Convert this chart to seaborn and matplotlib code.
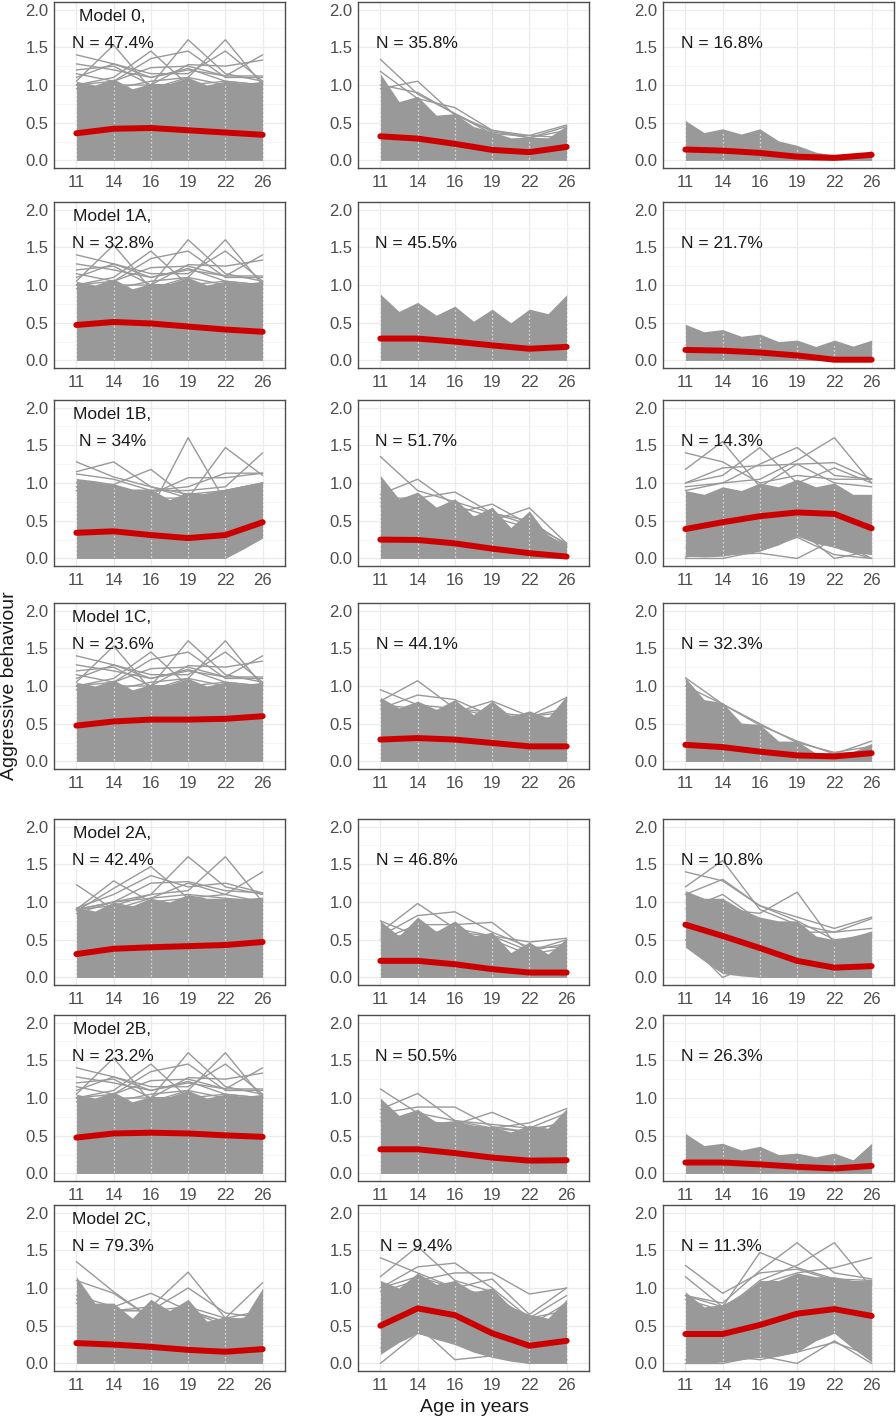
import numpy as np
import pandas as pd
import matplotlib
matplotlib.use("Agg")
import matplotlib.pyplot as plt
import seaborn as sns

# ---------------- data ----------------
ages = ["11", "14", "16", "19", "22", "26"]
model_names = ["Model 0,", "Model 1A,", "Model 1B,", "Model 1C,", "Model 2A,", "Model 2B,", "Model 2C,"]
class_pct = [
    ["47.4%", "35.8%", "16.8%"],
    ["32.8%", "45.5%", "21.7%"],
    ["34%", "51.7%", "14.3%"],
    ["23.6%", "44.1%", "32.3%"],
    ["42.4%", "46.8%", "10.8%"],
    ["23.2%", "50.5%", "26.3%"],
    ["79.3%", "9.4%", "11.3%"],
]

# class mean trajectories (red lines)
m0_mean = [[0.36, 0.42, 0.43, 0.40, 0.37, 0.34], [0.32, 0.29, 0.22, 0.14, 0.11, 0.18], [0.145, 0.13, 0.10, 0.05, 0.035, 0.075]]
m1a_mean = [[0.47, 0.51, 0.49, 0.45, 0.41, 0.38], [0.29, 0.29, 0.25, 0.20, 0.155, 0.18], [0.14, 0.13, 0.105, 0.066, 0.01, 0.01]]
m1b_mean = [[0.34, 0.36, 0.31, 0.27, 0.31, 0.48], [0.25, 0.245, 0.20, 0.13, 0.07, 0.025], [0.39, 0.48, 0.56, 0.61, 0.59, 0.40]]
m1c_mean = [[0.475, 0.53, 0.555, 0.555, 0.565, 0.60], [0.29, 0.31, 0.29, 0.245, 0.20, 0.20], [0.22, 0.19, 0.13, 0.08, 0.067, 0.11]]
m2a_mean = [[0.31, 0.38, 0.40, 0.415, 0.43, 0.47], [0.22, 0.22, 0.175, 0.11, 0.065, 0.065], [0.70, 0.55, 0.39, 0.22, 0.13, 0.15]]
m2b_mean = [[0.475, 0.53, 0.54, 0.53, 0.505, 0.485], [0.32, 0.32, 0.27, 0.21, 0.17, 0.175], [0.145, 0.145, 0.12, 0.088, 0.066, 0.10]]
m2c_mean = [[0.27, 0.25, 0.22, 0.18, 0.155, 0.19], [0.50, 0.73, 0.64, 0.40, 0.235, 0.30], [0.39, 0.39, 0.51, 0.66, 0.72, 0.63]]

# envelopes of the dense grey mass of individual trajectories:
# values alternate: at age 11, between 11-14, at 14, ..., at 26 (11 values)
zero_edge = [0, 0, 0, 0, 0, 0, 0, 0, 0, 0, 0]
full_top = [1.05, 1.00, 1.08, 0.95, 1.02, 1.02, 1.10, 1.00, 1.05, 1.02, 1.05]
full_lines = [
    [1.40, 1.28, 1.10, 1.22, 1.05, 1.00],
    [1.05, 1.53, 0.95, 1.10, 1.00, 0.95],
    [1.00, 1.10, 1.45, 1.00, 1.05, 1.00],
    [0.95, 1.00, 1.00, 1.60, 1.15, 1.05],
    [1.00, 0.95, 1.05, 1.10, 1.60, 1.00],
    [1.00, 1.05, 1.23, 1.25, 1.12, 1.40],
    [1.28, 1.20, 1.10, 1.20, 1.12, 1.12],
    [1.20, 1.25, 1.00, 1.27, 1.25, 1.33],
    [1.15, 1.05, 1.35, 1.45, 1.10, 1.10],
    [1.10, 1.28, 1.15, 1.15, 1.45, 1.05],
]

m0_top = [full_top,
          [1.15, 0.78, 0.85, 0.60, 0.62, 0.45, 0.38, 0.30, 0.31, 0.30, 0.46],
          [0.53, 0.37, 0.42, 0.35, 0.42, 0.26, 0.20, 0.11, 0.07, 0.05, 0.13]]
m0_bottom = [zero_edge, zero_edge, zero_edge]
m0_lines = [full_lines,
            [[1.34, 0.88, 0.62, 0.38, 0.30, 0.40], [0.95, 1.05, 0.60, 0.40, 0.30, 0.45],
             [1.18, 0.82, 0.70, 0.40, 0.33, 0.47], [1.00, 0.90, 0.62, 0.35, 0.33, 0.30]],
            []]

m1a_top = [full_top,
           [0.88, 0.65, 0.77, 0.60, 0.72, 0.52, 0.68, 0.50, 0.68, 0.62, 0.87],
           [0.48, 0.38, 0.41, 0.32, 0.35, 0.25, 0.27, 0.185, 0.27, 0.19, 0.27]]
m1a_bottom = [zero_edge, zero_edge, zero_edge]
m1a_lines = [full_lines, [], []]

m1b_top = [[1.06, 1.03, 0.99, 0.92, 0.92, 0.78, 0.88, 0.85, 0.92, 0.95, 1.00],
           [1.10, 0.79, 0.88, 0.68, 0.79, 0.56, 0.68, 0.41, 0.63, 0.30, 0.19],
           [0.90, 0.85, 0.95, 0.90, 1.00, 0.95, 1.05, 0.95, 1.00, 0.85, 0.85]]
m1b_bottom = [[0, 0, 0, 0, 0, 0, 0, 0, 0, 0.13, 0.27],
              zero_edge,
              [0.03, 0.02, 0.03, 0.07, 0.10, 0.18, 0.30, 0.20, 0.15, 0.08, 0.05]]
m1b_lines = [
    [[1.28, 1.08, 0.95, 0.85, 0.90, 1.00], [1.15, 1.28, 0.95, 0.80, 0.90, 1.00],
     [1.00, 0.98, 1.18, 0.80, 0.90, 1.00], [0.90, 0.90, 0.65, 1.60, 0.75, 1.00],
     [0.95, 0.90, 0.85, 1.07, 1.07, 1.13], [0.90, 0.85, 0.80, 0.80, 1.47, 1.10],
     [0.95, 0.90, 0.90, 0.90, 0.95, 1.40], [1.12, 1.05, 0.90, 0.95, 1.13, 1.13]],
    [[1.35, 0.90, 0.75, 0.60, 0.45, 0.15], [0.85, 1.05, 0.70, 0.55, 0.40, 0.15],
     [0.80, 0.80, 0.88, 0.60, 0.50, 0.18], [0.75, 0.70, 0.60, 0.72, 0.45, 0.20],
     [0.70, 0.65, 0.60, 0.50, 0.67, 0.20]],
    [[1.40, 1.28, 1.00, 1.10, 1.05, 1.05], [1.18, 1.55, 0.95, 1.25, 1.00, 0.95],
     [1.00, 1.10, 1.47, 1.00, 1.20, 1.00], [0.95, 1.00, 1.25, 1.47, 1.10, 1.05],
     [0.90, 1.00, 1.05, 1.30, 1.60, 1.00], [1.00, 1.20, 1.23, 1.25, 1.27, 1.05],
     [0.00, 0.00, 0.10, 0.28, 0.05, 0.00], [0.05, 0.05, 0.07, 0.00, 0.25, 0.00],
     [0.15, 0.10, 0.30, 0.40, 0.00, 0.10], [0.02, 0.10, 0.20, 0.30, 0.15, 0.00]],
]

m1c_top = [full_top,
           [0.85, 0.71, 0.80, 0.69, 0.82, 0.62, 0.80, 0.60, 0.67, 0.58, 0.87],
           [1.11, 0.82, 0.78, 0.51, 0.49, 0.27, 0.27, 0.11, 0.12, 0.13, 0.24]]
m1c_bottom = [zero_edge, zero_edge, zero_edge]
m1c_lines = [full_lines,
             [[0.95, 0.75, 0.70, 0.60, 0.55, 0.60], [0.80, 1.07, 0.70, 0.65, 0.60, 0.70],
              [0.70, 0.88, 0.82, 0.60, 0.60, 0.65], [0.75, 0.70, 0.65, 0.80, 0.60, 0.85]],
             [[1.11, 0.76, 0.50, 0.25, 0.12, 0.20], [1.00, 0.76, 0.48, 0.27, 0.10, 0.27]]]

m2a_top = [[0.93, 0.88, 1.00, 0.95, 1.05, 1.00, 1.10, 1.05, 1.05, 1.05, 1.05],
           [0.75, 0.55, 0.80, 0.61, 0.75, 0.55, 0.60, 0.33, 0.47, 0.31, 0.52],
           [1.15, 1.05, 1.05, 0.90, 0.80, 0.75, 0.75, 0.55, 0.50, 0.55, 0.60]]
m2a_bottom = [zero_edge,
              zero_edge,
              [0.40, 0.22, 0.05, 0.02, 0, 0, 0, 0, 0, 0, 0]]
m2a_lines = [
    [[1.23, 0.90, 1.05, 1.10, 1.05, 1.00], [0.90, 1.28, 1.00, 1.05, 1.00, 1.05],
     [0.88, 1.18, 1.47, 1.05, 1.10, 1.00], [0.90, 1.00, 1.25, 1.27, 1.15, 1.12],
     [0.85, 1.00, 1.10, 1.60, 1.20, 1.10], [0.90, 0.95, 1.10, 1.15, 1.60, 1.00],
     [0.90, 1.00, 1.05, 1.25, 1.10, 1.40], [0.92, 1.10, 1.35, 1.20, 1.25, 1.12]],
    [[0.75, 0.55, 0.60, 0.50, 0.30, 0.40], [0.60, 0.98, 0.65, 0.55, 0.35, 0.45],
     [0.55, 0.82, 0.87, 0.60, 0.40, 0.40], [0.50, 0.70, 0.70, 0.73, 0.35, 0.50],
     [0.50, 0.60, 0.60, 0.55, 0.47, 0.52]],
    [[1.40, 1.28, 0.95, 0.75, 0.50, 0.55], [1.20, 1.55, 0.90, 0.70, 0.60, 0.65],
     [1.10, 1.30, 0.95, 0.80, 0.65, 0.80], [1.00, 0.90, 0.85, 1.13, 0.45, 0.60],
     [0.90, 1.10, 0.75, 0.60, 0.60, 0.78], [0.50, 0.00, 0.20, 0.10, 0.05, 0.10]],
]

m2b_top = [full_top,
           [1.00, 0.77, 0.85, 0.68, 0.70, 0.64, 0.62, 0.55, 0.64, 0.60, 0.86],
           [0.53, 0.37, 0.40, 0.31, 0.36, 0.25, 0.27, 0.22, 0.27, 0.18, 0.40]]
m2b_bottom = [zero_edge, zero_edge, zero_edge]
m2b_lines = [full_lines,
             [[1.12, 0.80, 0.70, 0.60, 0.55, 0.60], [0.85, 1.06, 0.70, 0.65, 0.60, 0.65],
              [0.80, 0.88, 0.88, 0.62, 0.55, 0.70], [0.75, 0.70, 0.65, 0.81, 0.60, 0.80],
              [0.70, 0.65, 0.60, 0.60, 0.67, 0.86]],
             []]

m2c_top = [[1.15, 0.80, 0.80, 0.60, 0.85, 0.70, 0.85, 0.56, 0.62, 0.60, 1.00],
           [1.10, 1.00, 1.20, 1.05, 1.10, 0.95, 1.00, 0.75, 0.65, 0.60, 0.85],
           [0.95, 0.75, 0.78, 0.90, 1.10, 1.10, 1.20, 1.15, 1.15, 1.10, 1.10]]
m2c_bottom = [zero_edge,
              [0.12, 0.28, 0.40, 0.32, 0.25, 0.15, 0.08, 0.03, 0.00, 0.00, 0.00],
              [0.00, 0.00, 0.02, 0.05, 0.08, 0.10, 0.15, 0.30, 0.40, 0.20, 0.02]]
m2c_lines = [
    [[1.35, 0.95, 0.60, 0.70, 0.55, 0.60], [1.10, 0.93, 0.60, 0.70, 0.50, 0.60],
     [0.90, 0.75, 0.93, 0.70, 0.55, 0.65], [0.80, 0.70, 0.75, 1.21, 0.60, 0.70],
     [0.85, 0.70, 0.70, 1.00, 0.67, 0.60], [0.80, 0.70, 0.70, 0.75, 0.60, 1.07]],
    [[1.40, 1.20, 1.00, 0.90, 0.60, 0.70], [1.15, 1.55, 1.10, 0.95, 0.50, 0.80],
     [1.00, 1.28, 1.33, 1.00, 0.60, 0.90], [0.95, 1.10, 1.20, 1.20, 0.92, 1.00],
     [1.00, 1.15, 1.00, 1.12, 0.65, 1.00], [0.00, 0.40, 0.30, 0.10, 0.00, 0.05],
     [0.20, 0.50, 0.05, 0.10, 0.05, 0.00]],
    [[1.30, 0.93, 1.20, 1.25, 1.10, 1.05], [1.15, 0.75, 1.47, 1.27, 1.12, 1.10],
     [0.90, 0.80, 1.23, 1.60, 1.20, 1.12], [0.85, 0.70, 1.10, 1.30, 1.60, 1.00],
     [0.90, 0.75, 1.05, 1.20, 1.27, 1.40], [0.00, 0.00, 0.10, 0.00, 0.30, 0.00],
     [0.05, 0.10, 0.05, 0.15, 0.28, 0.10]],
]

means = [m0_mean, m1a_mean, m1b_mean, m1c_mean, m2a_mean, m2b_mean, m2c_mean]
tops = [m0_top, m1a_top, m1b_top, m1c_top, m2a_top, m2b_top, m2c_top]
bottoms = [m0_bottom, m1a_bottom, m1b_bottom, m1c_bottom, m2a_bottom, m2b_bottom, m2c_bottom]
lines = [m0_lines, m1a_lines, m1b_lines, m1c_lines, m2a_lines, m2b_lines, m2c_lines]

# ---------------- style ----------------
sns.set_theme(style="whitegrid")
plt.rcParams['font.family'] = ['Liberation Sans', 'DejaVu Sans']

GREY = "#999999"
RED = "#cc0000"
W, H = 896, 1419
fig = plt.figure(figsize=(W / 100, H / 100), dpi=100)
fig.patch.set_facecolor("white")

col_left = [54, 358, 663]
row_top = [2, 202, 400, 603, 819, 1015, 1205]
pw, ph = 231, 166

pos = np.arange(len(ages))
half_pos = np.arange(2 * len(ages) - 1) / 2.0

for r in range(7):
    for c in range(3):
        l, t = col_left[c], row_top[r]
        ax = fig.add_axes([l / W, 1 - (t + ph) / H, pw / W, ph / H])
        ax.set_facecolor("white")
        top = np.array(tops[r][c])
        bot = np.array(bottoms[r][c])
        # dense mass of individual trajectories
        ax.fill_between(half_pos, bot, top, color=GREY, lw=0, zorder=2)
        extra = lines[r][c]
        if extra:
            df = pd.DataFrame({
                "pos": np.tile(pos, len(extra)),
                "val": np.concatenate([np.array(e) for e in extra]),
                "id": np.repeat(np.arange(len(extra)), len(ages)),
            })
            sns.lineplot(data=df, x="pos", y="val", units="id", estimator=None,
                         color=GREY, lw=1.0, ax=ax, zorder=2, legend=False)
        # white dotted seams at measurement ages
        for i in range(len(ages)):
            lo_v, hi_v = bot[2 * i], top[2 * i]
            if hi_v - lo_v > 0.15:
                ax.vlines(i, lo_v + 0.02, hi_v - 0.05, colors="white",
                          linestyles=(0, (1, 2.2)), lw=0.9, alpha=0.85, zorder=3)
        # class mean
        sns.lineplot(x=pos, y=means[r][c], color=RED, lw=4.3, ax=ax, zorder=4,
                     legend=False)
        # labels
        if c == 0:
            ax.text(0.95, 1.91, model_names[r], ha="center", va="center",
                    fontsize=12.5, color="#1a1a1a", zorder=5)
        ax.text(0.97, 1.55, "N = " + class_pct[r][c], ha="center", va="center",
                fontsize=12.5, color="#1a1a1a", zorder=5)

        ax.set_xlim(-0.6, 5.6)
        ax.set_ylim(-0.1, 2.1)
        ax.set_xticks(pos)
        ax.set_xticklabels(ages)
        ax.set_yticks([0, 0.5, 1.0, 1.5, 2.0])
        ax.set_yticklabels(["0.0", "0.5", "1.0", "1.5", "2.0"])
        ax.set_yticks([0.25, 0.75, 1.25, 1.75], minor=True)
        ax.grid(True, which="major", color="#ebebeb", lw=0.9, zorder=0)
        ax.grid(True, which="minor", axis="y", color="#f3f3f3", lw=0.5, zorder=0)
        ax.grid(False, which="minor", axis="x")
        ax.set_axisbelow(True)
        ax.tick_params(axis="both", which="both", length=0, labelsize=12,
                       labelcolor="#4d4d4d")
        ax.tick_params(axis="x", pad=5)
        ax.tick_params(axis="y", pad=4)
        ax.set_xlabel("")
        ax.set_ylabel("")
        for s in ax.spines.values():
            s.set_visible(True)
            s.set_color("#4d4d4d")
            s.set_linewidth(1.0)

fig.text(10 / W, 1 - 686 / H, "Aggressive behaviour", rotation=90, ha="center",
         va="center", fontsize=14, color="#1a1a1a")
fig.text(474 / W, 1 - 1407 / H, "Age in years", ha="center", va="center",
         fontsize=14, color="#1a1a1a")

fig.savefig("out.png", dpi=100, facecolor="white")
